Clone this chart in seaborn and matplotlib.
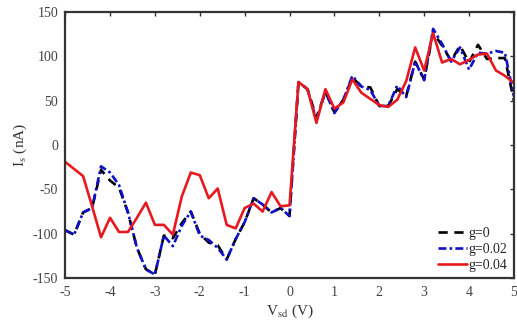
import numpy as np
import pandas as pd
import seaborn as sns
import matplotlib.pyplot as plt

# Data, bias voltage in V, current in nA
v_sd = np.round(np.linspace(-5, 5, 51), 1)

i_g0 = [-96, -101, -76, -71, -28, -40, -48, -76, -116, -140,
        -146, -102, -105, -88, -75, -100, -110, -113, -129, -106,
        -87, -60, -67, -76, -71, -80,
        71, 63, 31, 60, 37, 51, 76, 66, 65, 44,
        44, 63, 55, 94, 74, 127, 112, 95, 112, 93,
        113, 97, 98, 98, 50]

i_g002 = [-96, -101, -76, -71, -24, -31, -45, -76, -116, -140,
          -146, -102, -114, -91, -75, -102, -107, -116, -129, -106,
          -87, -60, -67, -76, -71, -80,
          71, 63, 28, 60, 36, 51, 78, 66, 62, 44,
          44, 67, 54, 94, 73, 131, 114, 94, 110, 85,
          104, 103, 106, 104, 55]

i_g004 = [-19, -27, -35, -69, -104, -82, -98, -98, -82, -65,
          -90, -90, -101, -58, -31, -34, -60, -49, -90, -94,
          -71, -66, -75, -53, -69, -68,
          71, 63, 25, 63, 41, 48, 74, 59, 52, 45,
          43, 51, 72, 110, 84, 126, 93, 97, 91, 96,
          102, 103, 84, 78, 70]

labels = ['g=0', 'g=0.02', 'g=0.04']
colors = ['black', '#1010c8', '#e8191e']
dashes = [(3.5, 2.5), (3, 1.2, 1, 1.2), '']

df = pd.DataFrame({'V': np.tile(v_sd, 3),
                   'I': i_g0 + i_g002 + i_g004,
                   'g': np.repeat(labels, len(v_sd))})

sns.set_style('white')
plt.rcParams['font.family'] = ['Liberation Serif', 'DejaVu Serif']
plt.rcParams['mathtext.fontset'] = 'stix'
plt.rcParams['axes.unicode_minus'] = False

fig = plt.figure(figsize=(5.17, 3.23), dpi=100)
ax = fig.add_axes([0.126, 0.139, 0.868, 0.824])

sns.lineplot(data=df, x='V', y='I', hue='g', style='g',
             palette=colors, dashes=dashes, linewidth=1.9,
             ax=ax)

ax.set_xlim(-5, 5)
ax.set_ylim(-150, 150)
ax.set_xticks(range(-5, 6))
ax.set_yticks(range(-150, 151, 50))
ax.tick_params(direction='in', top=True, right=True, length=3,
               width=1, labelsize=10, labelcolor='#444444',
               colors='#333333')
ax.tick_params(axis='x', pad=6)
ax.tick_params(axis='y', pad=5)
for s in ax.spines.values():
    s.set_linewidth(1.6)
    s.set_color('#333333')

ax.set_xlabel(r'V$_{\rm sd}$ (V)', fontsize=11, color='#333333', labelpad=2)
ax.set_ylabel(r'I$_{\rm s}$ (nA)', fontsize=11, color='#333333', labelpad=3)

leg = ax.legend(loc='lower right', frameon=False, fontsize=10,
                handlelength=2.1, handletextpad=0.1, labelspacing=0.2,
                borderaxespad=0.05)
for line in leg.get_lines():
    line.set_linewidth(1.9)

fig.savefig('out.png', dpi=100)
